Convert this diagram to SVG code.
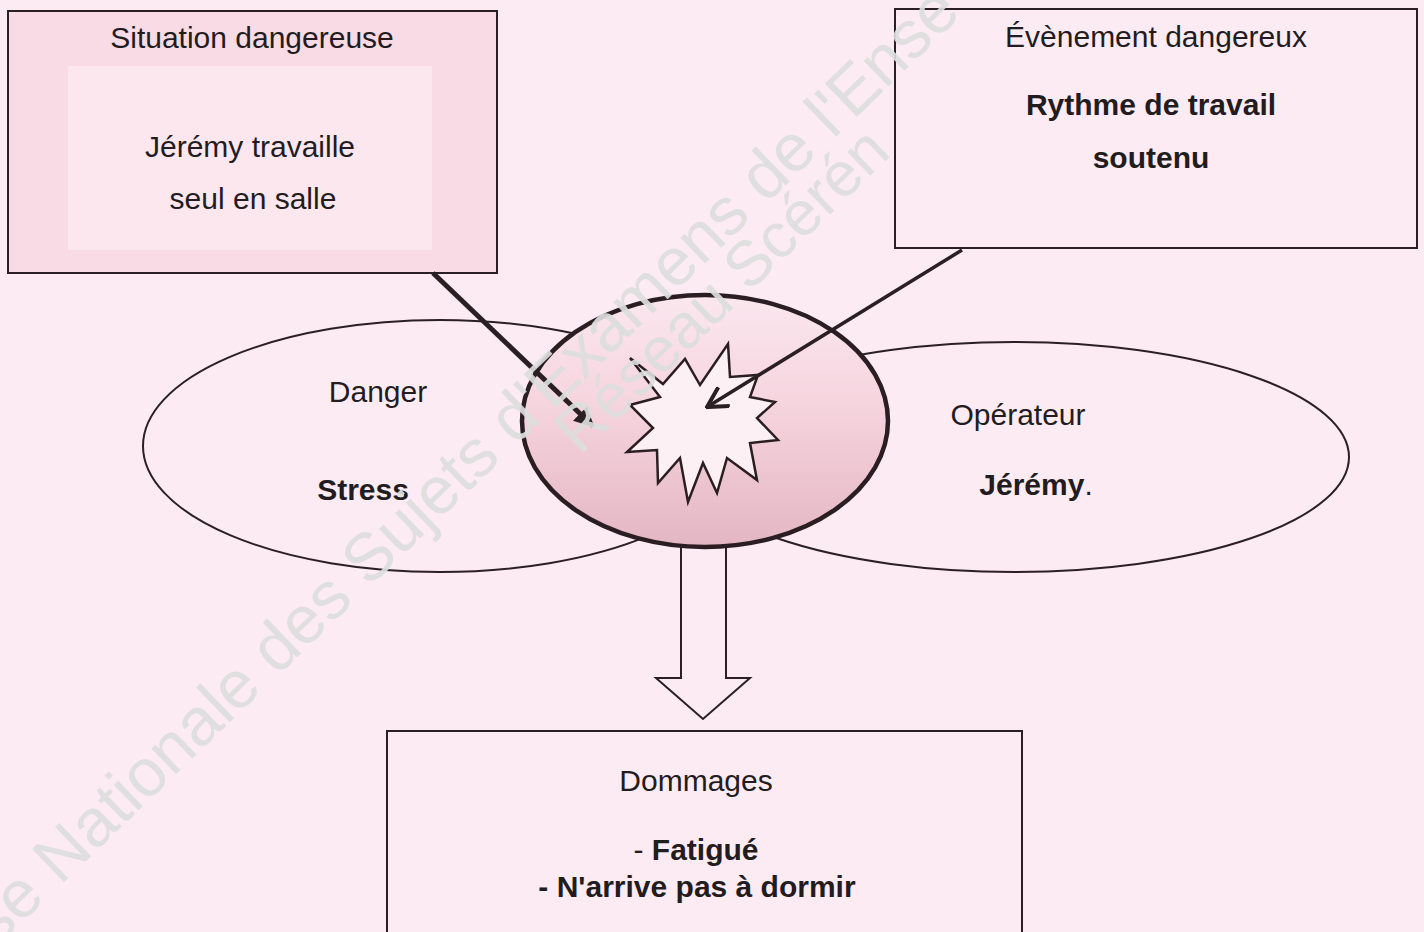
<svg xmlns="http://www.w3.org/2000/svg" width="1424" height="932" viewBox="0 0 1424 932">
<defs>
<style>
.t{font-family:"Liberation Sans",Arial,sans-serif;font-size:30px;fill:#231c1f;text-anchor:middle}
.b{font-weight:bold}
.bx{stroke:#2a2024;stroke-width:2}
.wm{font-family:"Liberation Sans",Arial,sans-serif;fill:#dcdddd;fill-opacity:0.92}
</style>
<linearGradient id="g" x1="0" y1="0" x2="0" y2="1">
<stop offset="0" stop-color="#fbe7ef"/>
<stop offset="0.42" stop-color="#f6d5df"/>
<stop offset="1" stop-color="#e4b6c4"/>
</linearGradient>
<marker id="m1" viewBox="0 0 10 10" refX="9" refY="5" markerWidth="4" markerHeight="4" orient="auto" markerUnits="strokeWidth">
<path d="M0,0 L10,5 L0,10 Z" fill="#2a2024"/>
</marker>
<marker id="m2" viewBox="0 0 24 24" refX="22" refY="12" markerWidth="24" markerHeight="24" orient="auto" markerUnits="userSpaceOnUse">
<path d="M2,1 L22,12 L2,23" fill="none" stroke="#2a2024" stroke-width="4" stroke-linejoin="miter"/>
</marker>
</defs>
<rect x="0" y="0" width="1424" height="932" fill="#fcebf2"/>

<g id="situation">
<rect class="bx" x="8" y="11" width="489" height="262" fill="#f8dbe5"/>
<rect x="68" y="66" width="364" height="184" fill="#fde7ef"/>
<text class="t" x="252" y="48">Situation dangereuse</text>
<text class="t" x="250" y="157">Jérémy travaille</text>
<text class="t" x="253" y="209">seul en salle</text>
</g>

<g id="evenement">
<rect class="bx" x="895" y="9" width="522" height="239" fill="#fcebf2"/>
<text class="t" x="1156" y="47">Évènement dangereux</text>
<text class="t b" x="1151" y="115">Rythme de travail</text>
<text class="t b" x="1151" y="168">soutenu</text>
</g>

<g id="danger">
<ellipse class="bx" cx="440" cy="446" rx="297" ry="126" fill="#fcebf2"/>
<text class="t" x="378" y="402">Danger</text>
<text class="t b" x="363" y="500">Stress</text>
</g>

<g id="operateur">
<ellipse class="bx" cx="1014" cy="457" rx="335" ry="115" fill="#fcebf2"/>
<text class="t" x="1018" y="425">Opérateur</text>
<text class="t" x="1036" y="495"><tspan class="b">Jérémy</tspan>.</text>
</g>

<g id="connectors">
<polygon class="bx" points="681,540 681,678 656,678 703,719 750,678 726,678 726,540" fill="#fcebf2"/>
</g>

<g id="evenement-central">
<ellipse cx="705" cy="421" rx="183" ry="126" fill="url(#g)" stroke="#2a1e22" stroke-width="4.5"/>
<polygon points="630,358 663,384 685,359 700,385 728,344 730,377 758,375 750,397 775,402 757,418 778,440 750,443 757,480 727,458 717,493 703,463 688,502 680,458 658,483 657,450 627,452 653,428 630,405 660,397" fill="#fdf0f5" stroke="#2a1e22" stroke-width="2.5" stroke-linejoin="miter"/>
</g>

<g id="arrows">
<line x1="433" y1="273" x2="593" y2="426" stroke="#2a2024" stroke-width="5" marker-end="url(#m1)"/>
<line x1="962" y1="250" x2="707" y2="407" stroke="#2a2024" stroke-width="3.5" marker-end="url(#m2)"/>
</g>

<g id="dommages">
<rect class="bx" x="387" y="731" width="635" height="230" fill="#fcebf2"/>
<text class="t" x="696" y="791">Dommages</text>
<text class="t" x="696" y="860">- <tspan class="b">Fatigué</tspan></text>
<text class="t b" x="697" y="897">- N'arrive pas à dormir</text>
</g>

<g id="watermark">
<text class="wm" font-size="67" transform="translate(-4,948) rotate(-44)">se Nationale des Sujets d'Examens de l'Ense</text>
<text class="wm" font-size="63" transform="translate(580,456) rotate(-44)">Réseau Scérén</text>
</g>
</svg>
